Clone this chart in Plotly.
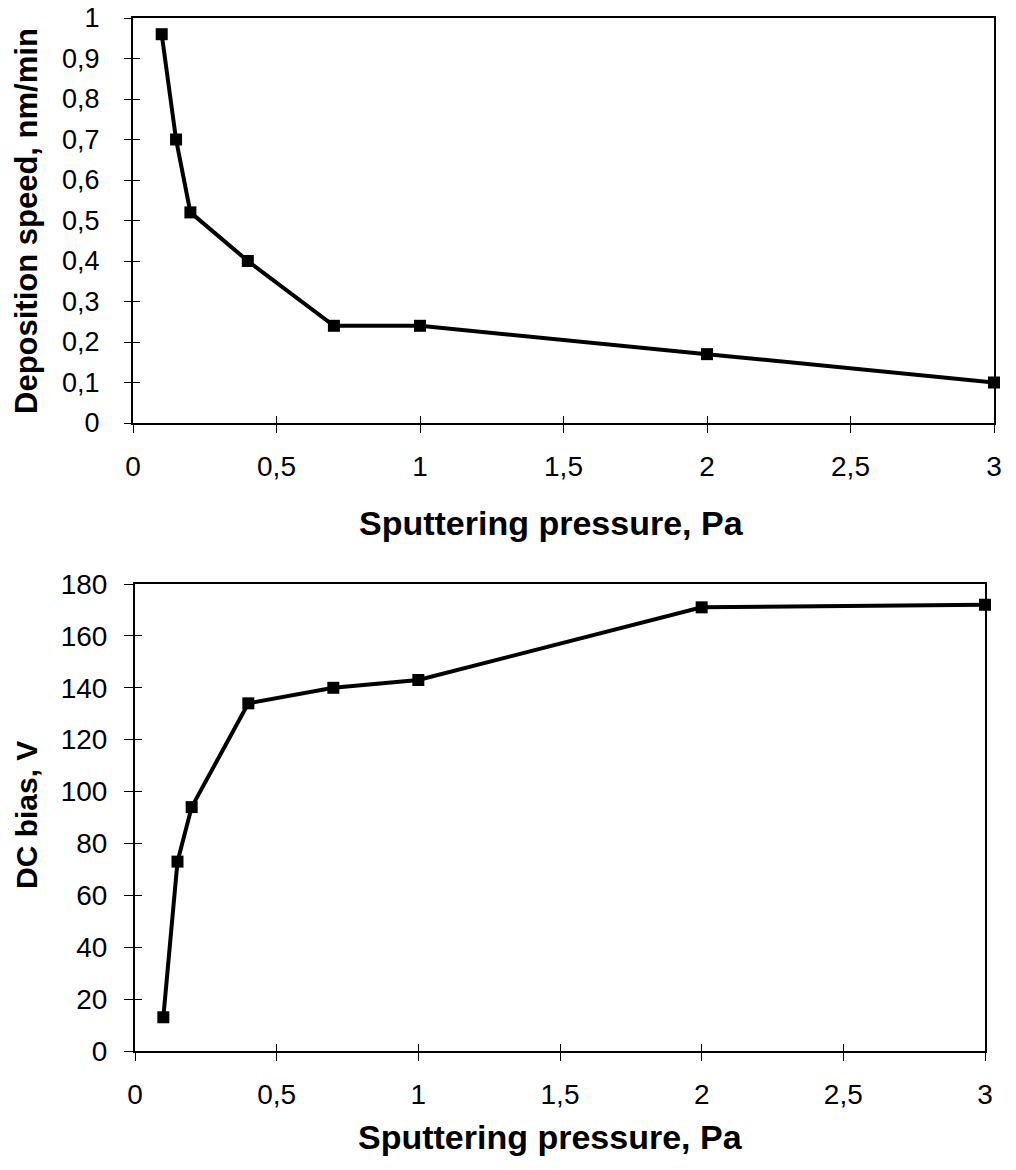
import plotly.graph_objects as go

# Data
pressure = [0.1, 0.15, 0.2, 0.4, 0.7, 1.0, 2.0, 3.0]
deposition_speed = [0.96, 0.70, 0.52, 0.40, 0.24, 0.24, 0.17, 0.10]
dc_bias = [13, 73, 94, 134, 140, 143, 171, 172]
speed_ticks = [0, 0.1, 0.2, 0.3, 0.4, 0.5, 0.6, 0.7, 0.8, 0.9, 1.0]

x_title = "Sputtering pressure, Pa"
y_title_top = "Deposition speed, nm/min"
y_title_bottom = "DC bias, V"

W, H = 1016, 1170
OFF = 8   # default page body margin
FONT = "Liberation Sans, Arial, sans-serif"
TICKFONT = dict(family=FONT, size=28, color="black")

def px_x(v):
    return (v - OFF) / W

def px_y(v):
    return 1 - (v - OFF) / H

top_xd = [px_x(133), px_x(994)]
top_yd = [px_y(423), px_y(18)]
bot_xd = [px_x(135), px_x(985)]
bot_yd = [px_y(1051), px_y(584)]

line_style = dict(color="black", width=4)
marker_style = dict(symbol="square", size=12, color="black")

fig = go.Figure()
fig.add_trace(go.Scatter(x=pressure, y=deposition_speed, mode="lines+markers",
                         line=line_style, marker=marker_style, xaxis="x", yaxis="y",
                         showlegend=False, cliponaxis=False))
fig.add_trace(go.Scatter(x=pressure, y=dc_bias, mode="lines+markers",
                         line=line_style, marker=marker_style, xaxis="x2", yaxis="y2",
                         showlegend=False, cliponaxis=False))
# empty traces to activate overlay axes for inner tick marks
fig.add_trace(go.Scatter(x=[], y=[], xaxis="x3", yaxis="y3", showlegend=False))
fig.add_trace(go.Scatter(x=[], y=[], xaxis="x4", yaxis="y4", showlegend=False))

common_x = dict(range=[0, 3], dtick=0.5, tick0=0, showgrid=False, zeroline=False,
                showline=True, linecolor="black", linewidth=2, mirror=True,
                ticks="outside", ticklen=8, tickwidth=1, tickcolor="black",
                tickfont=TICKFONT, ticklabelstandoff=9, automargin=False,
                ticklabeloverflow="allow")
common_inner = dict(showgrid=False, zeroline=False, showline=False, showticklabels=False,
                    ticks="inside", ticklen=7, tickwidth=1, tickcolor="black")

fig.update_layout(
    width=W, height=H,
    margin=dict(l=0, r=0, t=0, b=0),
    paper_bgcolor="white", plot_bgcolor="white",
    separators=", ",
    xaxis=dict(domain=top_xd, anchor="y", **common_x),
    yaxis=dict(domain=top_yd, anchor="x", range=[0, 1], tickmode="array", tickvals=speed_ticks,
               showgrid=False, zeroline=False, showline=True, linecolor="black",
               linewidth=2, mirror=True, ticks="outside", ticklen=7, tickwidth=1,
               tickcolor="black", tickfont=dict(family=FONT, size=27, color="black"),
               ticklabelstandoff=19, automargin=False, ticklabeloverflow="allow"),
    xaxis2=dict(domain=bot_xd, anchor="y2", **common_x),
    yaxis2=dict(domain=bot_yd, anchor="x2", range=[0, 180], dtick=20, tick0=0,
                showgrid=False, zeroline=False, showline=True, linecolor="black",
                linewidth=2, mirror=True, ticks="outside", ticklen=9, tickwidth=1,
                tickcolor="black", tickfont=TICKFONT, ticklabelstandoff=11,
                automargin=False, ticklabeloverflow="allow"),
    xaxis3=dict(overlaying="x", anchor="y", range=[0, 3], dtick=0.5, tick0=0, **common_inner),
    yaxis3=dict(overlaying="y", anchor="x", range=[0, 1], tickmode="array", tickvals=speed_ticks,
                **common_inner),
    xaxis4=dict(overlaying="x2", anchor="y2", range=[0, 3], dtick=0.5, tick0=0, **common_inner),
    yaxis4=dict(overlaying="y2", anchor="x2", range=[0, 180], dtick=20, tick0=0, **common_inner),
    annotations=[
        dict(text=f"<b>{y_title_top}</b>", x=px_x(26), y=px_y(221), xref="paper", yref="paper",
             textangle=-90, showarrow=False, xanchor="center", yanchor="middle",
             font=dict(family=FONT, size=31, color="black")),
        dict(text=f"<b>{x_title}</b>", x=px_x(551), y=px_y(523), xref="paper", yref="paper",
             showarrow=False, xanchor="center", yanchor="middle",
             font=dict(family=FONT, size=34, color="black")),
        dict(text=f"<b>{y_title_bottom}</b>", x=px_x(26), y=px_y(815), xref="paper", yref="paper",
             textangle=-90, showarrow=False, xanchor="center", yanchor="middle",
             font=dict(family=FONT, size=30, color="black")),
        dict(text=f"<b>{x_title}</b>", x=px_x(550), y=px_y(1137), xref="paper", yref="paper",
             showarrow=False, xanchor="center", yanchor="middle",
             font=dict(family=FONT, size=34, color="black")),
    ],
)

fig.write_html("out.html")
